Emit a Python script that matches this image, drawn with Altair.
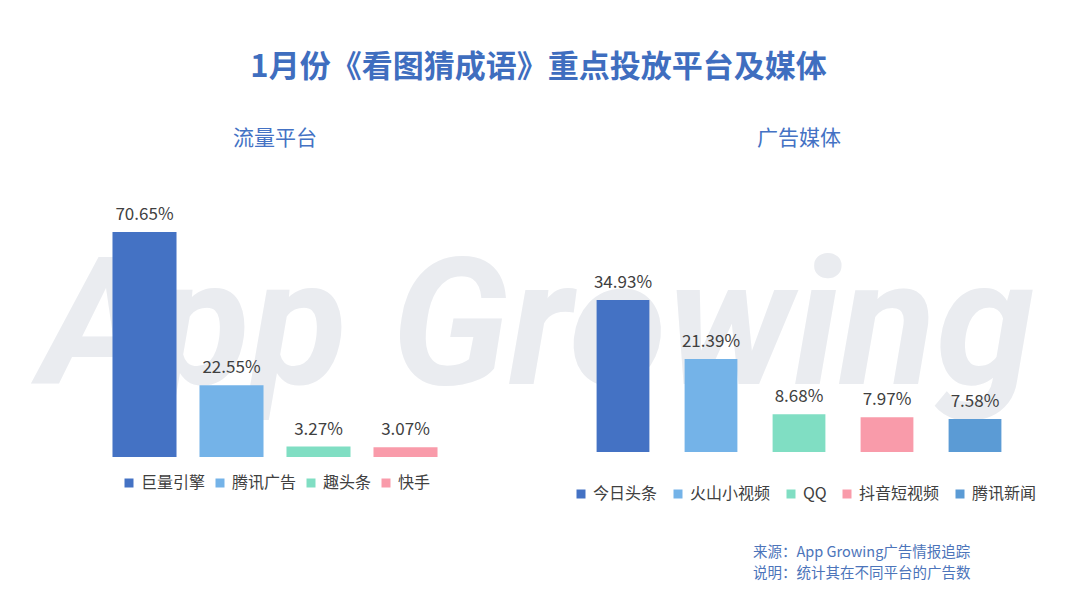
import altair as alt
import pandas as pd

FONT = "Noto Sans CJK SC"

main_title = "1月份《看图猜成语》重点投放平台及媒体"

left_title = "流量平台"
left_cats = ["巨量引擎", "腾讯广告", "趣头条", "快手"]
left_vals = [70.65, 22.55, 3.27, 3.07]
left_colors = ["#4472C4", "#74B3E8", "#80DEC3", "#F99BAA"]

right_title = "广告媒体"
right_cats = ["今日头条", "火山小视频", "QQ", "抖音短视频", "腾讯新闻"]
right_vals = [34.93, 21.39, 8.68, 7.97, 7.58]
right_colors = ["#4472C4", "#74B3E8", "#80DEC3", "#F99BAA", "#5B9BD5"]

notes = ["来源：App Growing广告情报追踪", "说明：统计其在不同平台的广告数"]
watermark = "App Growing"


def panel(cats, vals, colors, ttl, width, height, dmax, pin, pout, lx, ly, colpad):
    df = pd.DataFrame({"cat": cats, "val": vals,
                       "label": [f"{v:.2f}%" for v in vals]})
    base = alt.Chart(df).encode(
        x=alt.X("cat:N", sort=cats, axis=None,
                scale=alt.Scale(paddingInner=pin, paddingOuter=pout)),
        y=alt.Y("val:Q", axis=None,
                scale=alt.Scale(domain=[0, dmax], nice=False, zero=True)),
    )
    bars = base.mark_bar().encode(
        color=alt.Color("cat:N", sort=cats,
                        scale=alt.Scale(domain=cats, range=colors),
                        legend=alt.Legend(orient="none", legendX=lx, legendY=ly,
                                          direction="horizontal", title=None,
                                          symbolType="square", symbolSize=81,
                                          symbolStrokeWidth=0, labelFontSize=16,
                                          labelFont=FONT, labelColor="#404040",
                                          labelOffset=4, columnPadding=colpad))
    )
    text = base.mark_text(baseline="bottom", dy=-8, fontSize=17, font=FONT,
                          color="#404040").encode(text="label:N")
    return bars, text, dict(width=width, height=height,
                            title=alt.Title(ttl, fontSize=21, font=FONT,
                                            fontWeight="normal", color="#4472C4",
                                            anchor="middle", offset=10))


lb, lt, lprops = panel(left_cats, left_vals, left_colors, left_title,
                       348, 298, 93.56, 0.264, 0.132, 20, 316, 6)
rb, rt, rprops = panel(right_cats, right_vals, right_colors, right_title,
                       440, 293, 67.36, 0.4, 0.2, -6, 327, 12)

wm = alt.Chart(pd.DataFrame({"w": [watermark]})).mark_text(
    font="Roboto", fontStyle="italic", fontWeight="bold",
    fontSize=178, color="#EAECF0", align="left", baseline="alphabetic"
).encode(text="w:N", x=alt.value(-61), y=alt.value(225))

note = alt.Chart(pd.DataFrame({"n": ["\n".join(notes)]})).mark_text(
    font=FONT, fontSize=14.5, color="#4C74BA", align="left", baseline="top",
    lineBreak="\n", lineHeight=21
).encode(text="n:N", x=alt.value(174), y=alt.value(387))

left = alt.layer(wm, lb, lt).properties(**lprops)
right = alt.layer(rb, rt, note).properties(**rprops)

chart = alt.hconcat(left, right, spacing=130, bounds="flush").resolve_scale(
    color="independent", x="independent", y="independent"
).properties(
    title=alt.Title(main_title, fontSize=31, font=FONT, fontWeight="bold",
                    color="#3F6EBF", anchor="middle", offset=44),
    padding={"left": 32, "top": 44, "right": 2, "bottom": 0},
    background="white",
).configure_view(stroke=None)

chart.save("out.html", embed_options={"renderer": "svg", "actions": False})
